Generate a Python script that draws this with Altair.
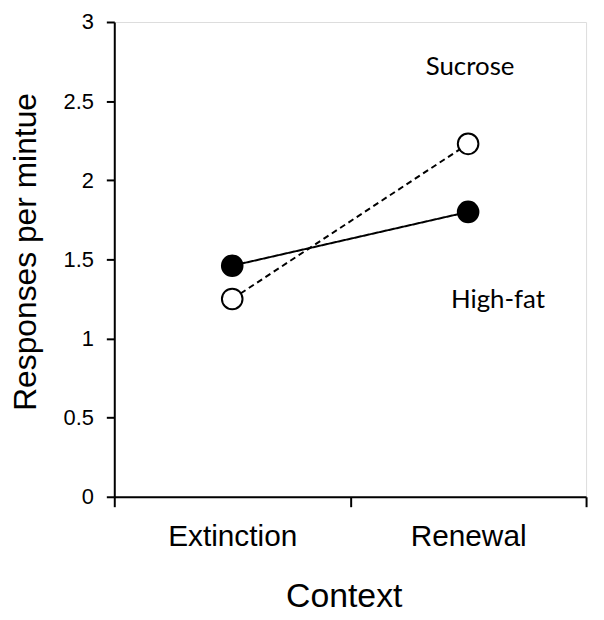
import altair as alt
import pandas as pd

contexts = ["Extinction", "Renewal"]
high_fat = [1.46, 1.80]
sucrose = [1.25, 2.23]
groups = ["High-fat", "Sucrose"]

# annotation labels (placed in data coordinates)
label_text = ["Sucrose", "High-fat"]
label_context = ["Renewal", "Renewal"]
label_value = [2.668, 1.193]

rows = []
for c, v in zip(contexts, high_fat):
    rows.append({"context": c, "value": v, "group": "High-fat"})
for c, v in zip(contexts, sucrose):
    rows.append({"context": c, "value": v, "group": "Sucrose"})
df = pd.DataFrame(rows)

labels = pd.DataFrame({"text": label_text, "context": label_context,
                       "value": label_value})

x_enc = alt.X(
    "context:N",
    sort=contexts,
    scale=alt.Scale(type="band", paddingInner=0, paddingOuter=0, domain=contexts),
    axis=alt.Axis(
        title="Context", tickBand="extent", labelAngle=0, grid=False,
        labelFont="Liberation Sans", labelFontSize=30, labelColor="black",
        labelPadding=15, tickSize=10, tickWidth=2, tickColor="black",
        domainColor="black", domainWidth=2,
        titleFont="Liberation Sans", titleFontSize=34, titleFontWeight="normal",
        titleColor="black", titleBaseline="alphabetic", titleY=110, titleX=231,
    ),
)
y_enc = alt.Y(
    "value:Q",
    scale=alt.Scale(domain=[0, 3], nice=False, zero=True),
    axis=alt.Axis(
        title="Responses per mintue", values=[0, 0.5, 1, 1.5, 2, 2.5, 3],
        format=".1~f", grid=False,
        labelFont="Liberation Sans", labelFontSize=22, labelColor="black",
        labelPadding=13, tickSize=8, tickWidth=2, tickColor="black",
        domainColor="black", domainWidth=2,
        titleFont="Liberation Sans", titleFontSize=32, titleFontWeight="normal",
        titleColor="black", titleX=-72, titleY=231,
    ),
)

lines = alt.Chart(df).mark_line(color="black", strokeWidth=2).encode(
    x=x_enc, y=y_enc,
    strokeDash=alt.StrokeDash("group:N", scale=alt.Scale(domain=groups, range=[[1, 0], [6, 4]]), legend=None),
    detail="group:N",
)

points = alt.Chart(df).mark_point(shape="circle", filled=True, opacity=1, size=430,
                                  stroke="black", strokeWidth=2).encode(
    x=x_enc, y=y_enc,
    fill=alt.Fill("group:N", scale=alt.Scale(domain=groups, range=["black", "white"]), legend=None),
)

text_sucrose = alt.Chart(labels[labels.text == "Sucrose"]).mark_text(
    font="Lato", fontSize=26, color="black", baseline="alphabetic", align="center", dx=2
).encode(x=x_enc, y=y_enc, text="text:N")

text_fat = alt.Chart(labels[labels.text == "High-fat"]).mark_text(
    font="Lato", fontSize=26, color="black", baseline="alphabetic", align="center", dx=30
).encode(x=x_enc, y=y_enc, text="text:N")

chart = alt.layer(lines, points, text_sucrose, text_fat).properties(
    width=475, height=478,
    autosize=alt.AutoSizeParams(type="none"),
    padding={"left": 107, "top": 12, "right": 10, "bottom": 125},
).configure_view(stroke=None).configure(background="white")

chart.save("out.html", embed_options={"renderer": "svg", "actions": False})
